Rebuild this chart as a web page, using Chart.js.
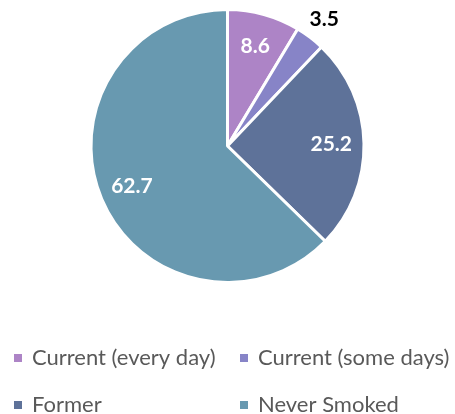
<!DOCTYPE html>
<html>
<head>
<meta charset="utf-8">
<script src="https://cdn.jsdelivr.net/npm/chart.js@4/dist/chart.umd.min.js"></script>
<style>
  html, body { margin: 0; padding: 0; background: #ffffff; }
  #wrap { position: relative; width: 455px; height: 414px; }
</style>
</head>
<body>
<div id="wrap"><canvas id="chart" width="455" height="414"></canvas></div>
<script>
// Smoking status shares (percent)
const categories = ['Current (every day)', 'Current (some days)', 'Former', 'Never Smoked'];
const shares = [8.6, 3.5, 25.2, 62.7];
const sliceColors = ['#AD84C6', '#8784C7', '#5E7299', '#6899B0'];
// slices whose value label sits outside the pie
const outsideLabel = [false, true, false, false];

const FONT = 'Lato, "Open Sans", sans-serif';

// Value labels placed along each slice's mid-angle
const valueLabels = {
  id: 'valueLabels',
  afterDatasetsDraw(chart) {
    const ctx = chart.ctx;
    const meta = chart.getDatasetMeta(0);
    ctx.save();
    ctx.textAlign = 'center';
    ctx.textBaseline = 'middle';
    ctx.font = 'bold 21px ' + FONT;
    meta.data.forEach((arc, i) => {
      const p = arc.getProps(['x', 'y', 'startAngle', 'endAngle', 'outerRadius'], true);
      const mid = (p.startAngle + p.endAngle) / 2;
      const r = outsideLabel[i] ? p.outerRadius * 1.17 : p.outerRadius * 0.76;
      ctx.fillStyle = outsideLabel[i] ? '#000000' : '#ffffff';
      ctx.fillText(shares[i].toFixed(1), p.x + Math.cos(mid) * r, p.y + Math.sin(mid) * r);
    });
    ctx.restore();
  }
};

// Two-column legend under the pie
const gridLegend = {
  id: 'gridLegend',
  afterDraw(chart) {
    const ctx = chart.ctx;
    const colX = [14, 240];
    const rowY = [358, 405];
    ctx.save();
    ctx.font = '22px ' + FONT;
    ctx.textBaseline = 'middle';
    ctx.textAlign = 'left';
    chart.data.labels.forEach((label, i) => {
      const x = colX[i % 2];
      const y = rowY[Math.floor(i / 2)];
      ctx.fillStyle = chart.data.datasets[0].backgroundColor[i];
      ctx.fillRect(x, y - 4, 8, 8);
      ctx.fillStyle = '#595959';
      ctx.fillText(label, x + 18, y);
    });
    ctx.restore();
  }
};

new Chart(document.getElementById('chart'), {
  type: 'pie',
  data: {
    labels: categories,
    datasets: [{
      data: shares,
      backgroundColor: sliceColors,
      borderColor: '#ffffff',
      borderWidth: 3
    }]
  },
  options: {
    responsive: false,
    animation: false,
    layout: { padding: { top: 8, bottom: 130, left: 0, right: 0 } },
    plugins: {
      legend: { display: false },
      tooltip: { enabled: false }
    }
  },
  plugins: [valueLabels, gridLegend]
});
</script>
</body>
</html>
